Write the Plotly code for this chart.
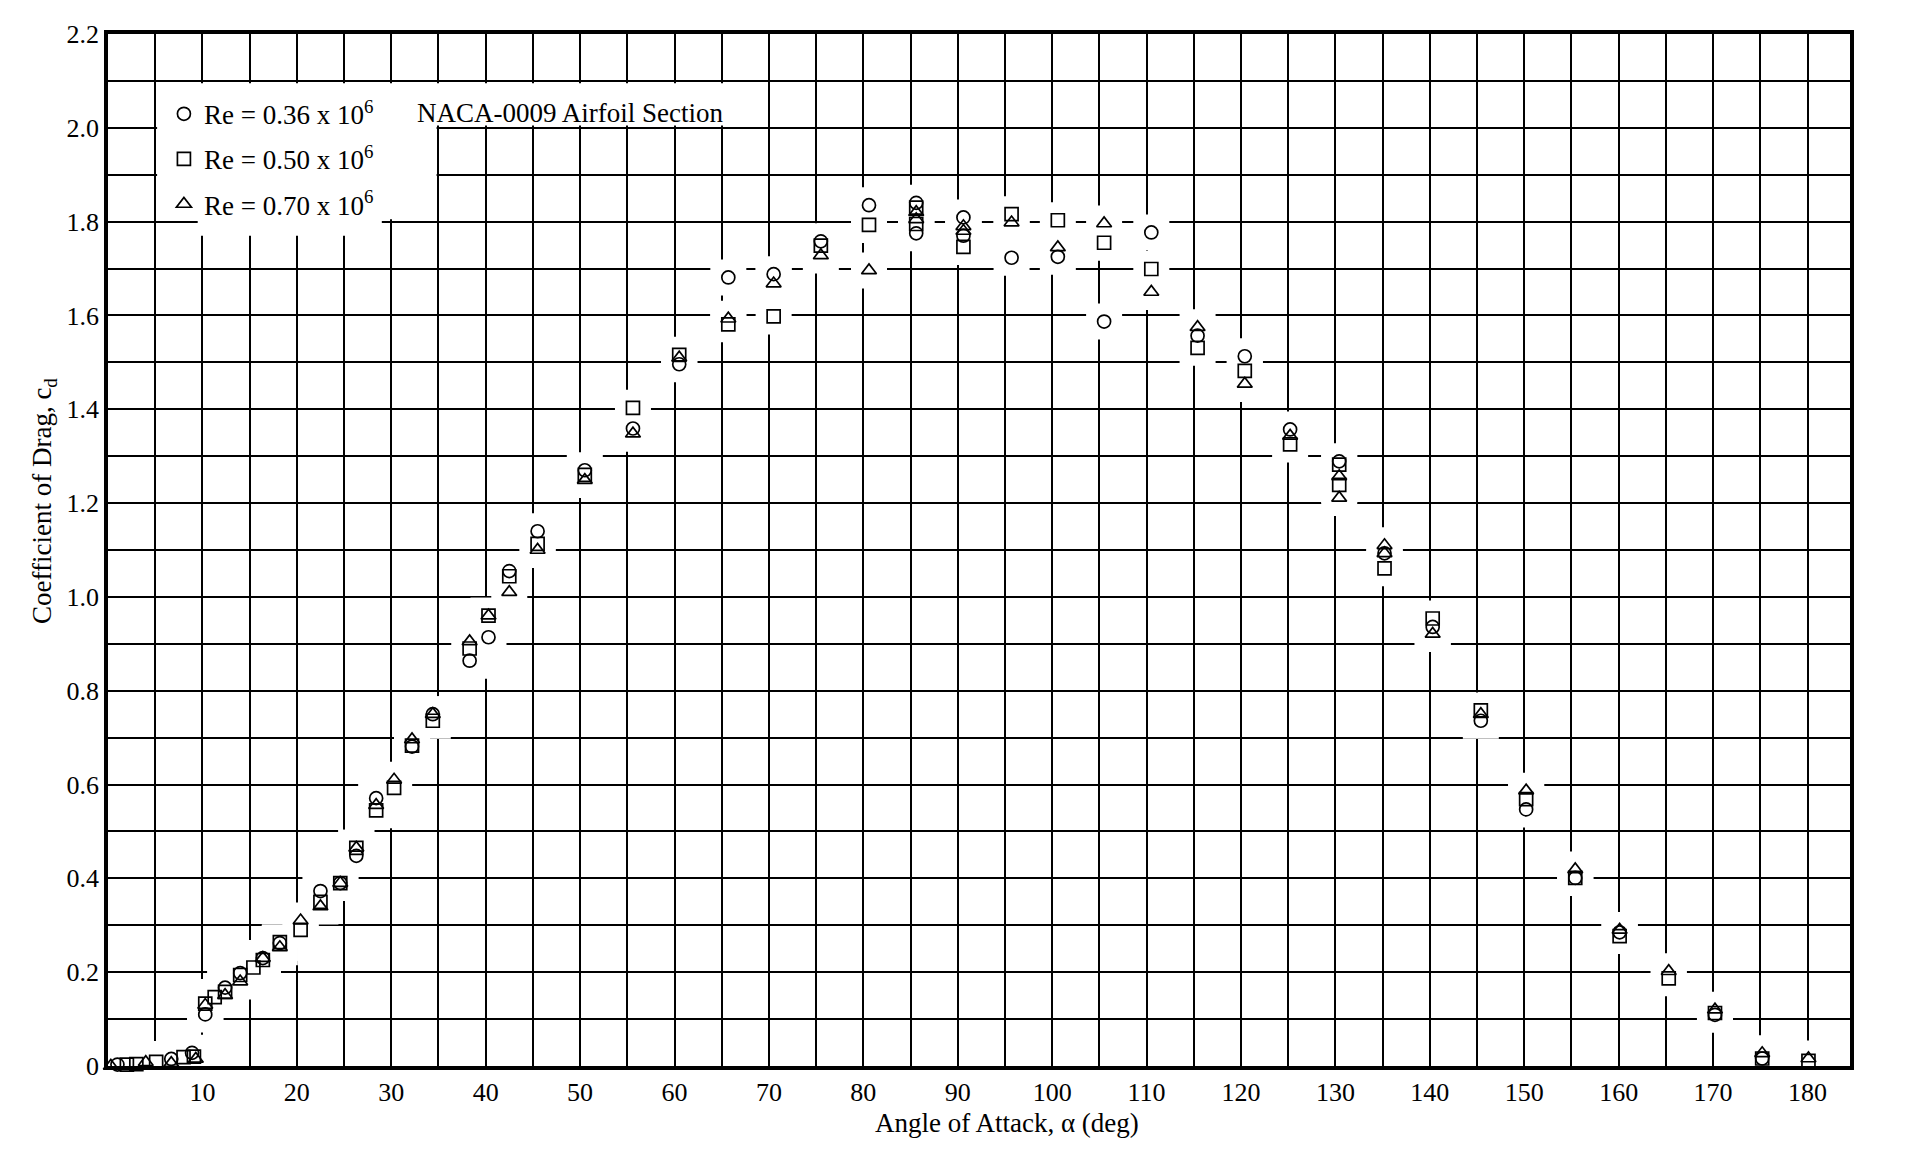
import plotly.graph_objects as go

# ---------------- data ----------------
alpha_re036 = [1.0, 6.7, 8.9, 10.3, 12.4, 14.0, 16.4, 18.2, 22.5, 24.6, 26.3, 28.4, 32.2, 34.4,
               38.3, 40.3, 42.5, 45.5, 50.5, 55.6, 60.5, 65.7, 70.5, 75.5, 80.6, 85.6, 85.6,
               90.6, 90.6, 95.7, 100.6, 105.5, 110.5, 115.4, 120.4, 125.2, 130.4, 135.2, 140.3,
               145.4, 150.2, 155.4, 160.1, 170.2, 175.2, 180.1]
cd_re036 = [0.003, 0.015, 0.028, 0.110, 0.167, 0.198, 0.230, 0.262, 0.373, 0.390, 0.448, 0.571,
            0.681, 0.750, 0.864, 0.914, 1.055, 1.140, 1.270, 1.359, 1.496, 1.681, 1.688, 1.758,
            1.835, 1.840, 1.775, 1.809, 1.770, 1.723, 1.725, 1.587, 1.777, 1.557, 1.513, 1.357,
            1.289, 1.093, 0.936, 0.736, 0.547, 0.401, 0.285, 0.109, 0.016, -0.008]

alpha_re050 = [2.0, 3.0, 5.1, 8.0, 9.1, 10.3, 11.3, 12.4, 14.0, 15.4, 16.4, 18.2, 20.4, 22.5,
               24.6, 26.3, 28.4, 30.3, 32.2, 34.4, 38.3, 40.3, 42.5, 45.5, 50.5, 55.6, 60.5,
               65.7, 70.5, 75.5, 80.6, 85.6, 85.6, 90.6, 95.7, 100.6, 105.5, 110.5, 115.4,
               120.4, 125.2, 130.4, 130.4, 135.2, 140.3, 145.4, 150.2, 155.4, 160.1, 165.3,
               170.2, 175.2, 180.1]
cd_re050 = [0.003, 0.004, 0.009, 0.019, 0.020, 0.133, 0.147, 0.158, 0.194, 0.210, 0.226, 0.264,
            0.290, 0.350, 0.390, 0.465, 0.545, 0.593, 0.683, 0.736, 0.890, 0.960, 1.044, 1.113,
            1.260, 1.403, 1.516, 1.581, 1.598, 1.749, 1.793, 1.830, 1.795, 1.746, 1.816, 1.803,
            1.755, 1.699, 1.531, 1.482, 1.325, 1.282, 1.239, 1.061, 0.954, 0.758, 0.569, 0.401,
            0.277, 0.187, 0.113, 0.016, 0.011]

alpha_re070 = [0.3, 4.0, 6.7, 9.3, 10.3, 12.4, 14.0, 16.4, 18.2, 20.4, 22.5, 24.6, 26.3, 28.4,
               30.3, 32.2, 34.4, 38.3, 40.3, 42.5, 45.5, 50.5, 55.6, 60.5, 65.7, 70.5, 75.5,
               80.6, 85.6, 85.6, 90.6, 90.6, 95.7, 100.6, 105.5, 110.5, 115.4, 120.4, 125.2,
               130.4, 130.4, 135.2, 135.2, 140.3, 145.4, 150.2, 155.4, 160.1, 165.3, 170.2,
               175.2, 180.1]
cd_re070 = [0.000, 0.008, 0.006, 0.015, 0.130, 0.151, 0.180, 0.230, 0.253, 0.310, 0.340, 0.390,
            0.465, 0.556, 0.610, 0.696, 0.750, 0.905, 0.960, 1.010, 1.100, 1.249, 1.348, 1.510,
            1.593, 1.668, 1.728, 1.696, 1.820, 1.805, 1.790, 1.780, 1.798, 1.745, 1.796, 1.650,
            1.575, 1.454, 1.343, 1.257, 1.211, 1.110, 1.093, 0.921, 0.750, 0.587, 0.419, 0.290,
            0.202, 0.120, 0.027, 0.016]

series_names = ["Re = 0.36 x 10<sup>6</sup>", "Re = 0.50 x 10<sup>6</sup>", "Re = 0.70 x 10<sup>6</sup>"]
series_symbols = ["circle-open", "square-open", "triangle-up-open"]

x_tick_vals = list(range(10, 190, 10))
x_tick_text = [str(v) for v in x_tick_vals]
x_minor_vals = list(range(5, 185, 10))
y_tick_vals = [round(i * 0.2, 1) for i in range(0, 12)]
y_tick_text = ["0"] + [f"{v:.1f}" for v in y_tick_vals[1:]]
y_minor_vals = [round(0.1 + i * 0.2, 1) for i in range(0, 11)]

title_text = "NACA-0009 Airfoil Section"
x_title = "Angle of Attack, \u03b1 (deg)"
y_title = "Coefficient of Drag, c<sub>d</sub>"

# ---------------- figure ----------------
FONT = "Liberation Serif, Times New Roman, serif"
fig = go.Figure()

# white halos that break the grid around the plotted points
all_a = alpha_re036 + alpha_re050 + alpha_re070
all_c = cd_re036 + cd_re050 + cd_re070
fig.add_trace(go.Scatter(
    x=all_a, y=all_c, mode="markers", hoverinfo="skip", showlegend=False,
    marker=dict(symbol="square", size=36, color="white", line=dict(width=0)),
))

for xs, ys, name, sym in zip([alpha_re036, alpha_re050, alpha_re070],
                             [cd_re036, cd_re050, cd_re070],
                             series_names, series_symbols):
    fig.add_trace(go.Scatter(
        x=xs, y=ys, mode="markers", name=name, legendgroup=name, cliponaxis=False,
        marker=dict(symbol=sym, size=13, color="black", line=dict(width=1.7, color="black")),
    ))

axis_common = dict(
    showgrid=True, gridcolor="black", gridwidth=1.6,
    showline=True, linecolor="black", linewidth=3.5, mirror=True,
    ticks="", zeroline=False, tickmode="array",
    tickfont=dict(family=FONT, size=26, color="black"),
)
fig.update_xaxes(range=[0, 184.5], tickvals=x_tick_vals, ticktext=x_tick_text,
                 minor=dict(tickmode="array", tickvals=x_minor_vals, showgrid=True,
                            gridcolor="black", gridwidth=1.6, ticks=""),
                 **axis_common)
fig.update_yaxes(range=[0, 2.2], tickvals=y_tick_vals, ticktext=y_tick_text,
                 minor=dict(tickmode="array", tickvals=y_minor_vals, showgrid=True,
                            gridcolor="black", gridwidth=1.6, ticks=""),
                 **axis_common)

# white areas behind the legend and the title text
fig.add_shape(type="rect", xref="x", yref="y", x0=5.2, x1=34.8, y0=1.805, y1=2.095,
              fillcolor="white", line=dict(width=0), layer="between")
fig.add_shape(type="rect", xref="x", yref="y", x0=9.5, x1=29.0, y0=1.77, y1=1.81,
              fillcolor="white", line=dict(width=0), layer="between")
fig.add_shape(type="rect", xref="x", yref="y", x0=30.2, x1=69.8, y0=2.005, y1=2.095,
              fillcolor="white", line=dict(width=0), layer="between")

fig.add_annotation(text=title_text, xref="paper", yref="paper", x=0.1762, y=0.9234,
                   xanchor="left", yanchor="middle", showarrow=False,
                   font=dict(family=FONT, size=27, color="black"))
fig.add_annotation(text=x_title, xref="paper", yref="paper", x=0.516, y=-0.0552,
                   xanchor="center", yanchor="middle", showarrow=False,
                   font=dict(family=FONT, size=27, color="black"))
fig.add_annotation(text=y_title, xref="paper", yref="paper", x=-0.0367, y=0.5475,
                   xanchor="center", yanchor="middle", showarrow=False, textangle=-90,
                   font=dict(family=FONT, size=27, color="black"))

fig.update_layout(
    width=1925, height=1153,
    margin=dict(l=108, r=75, t=34, b=87),
    paper_bgcolor="white", plot_bgcolor="white",
    font=dict(family=FONT, size=27, color="black"),
    legend=dict(x=0.0321, y=0.946, xanchor="left", yanchor="top",
                bgcolor="rgba(0,0,0,0)", font=dict(family=FONT, size=27, color="black"),
                tracegroupgap=7),
)

fig.write_html("out.html")
